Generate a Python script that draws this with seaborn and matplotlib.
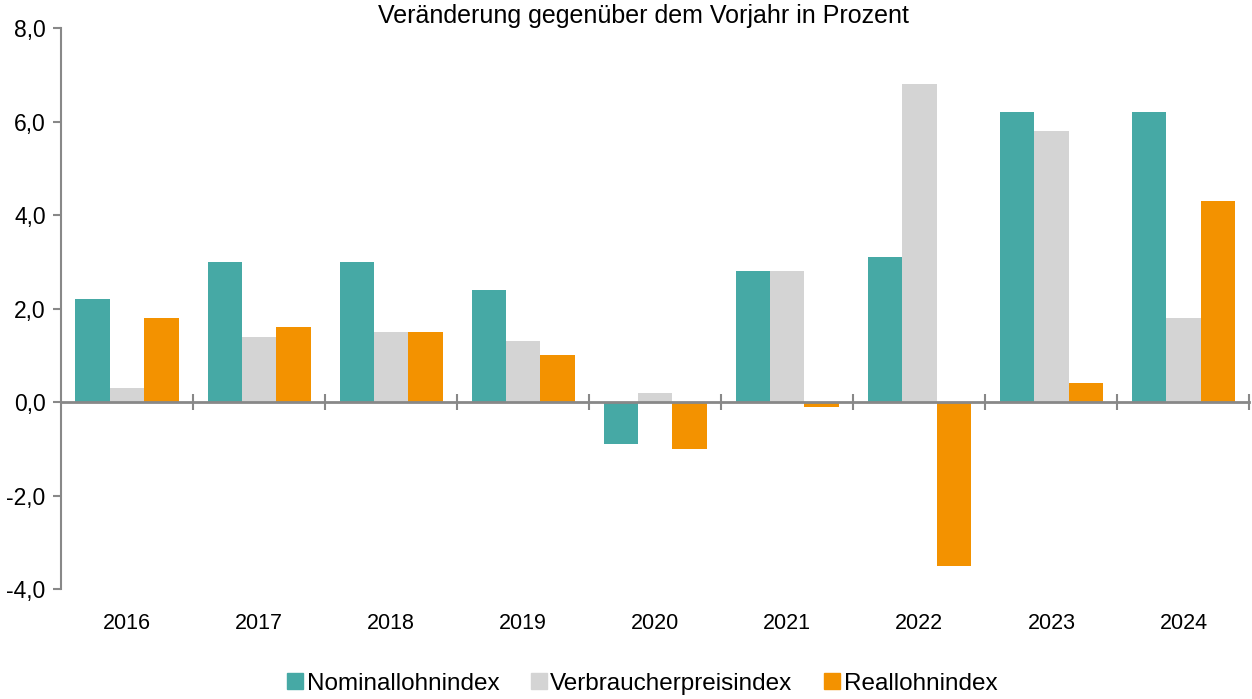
import pandas as pd
import seaborn as sns
from matplotlib import pyplot as plt
from matplotlib.ticker import FixedLocator, FuncFormatter

jahre = ['2016', '2017', '2018', '2019', '2020', '2021', '2022', '2023', '2024']
nominal = [2.2, 3.0, 3.0, 2.4, -0.9, 2.8, 3.1, 6.2, 6.2]
vpi = [0.3, 1.4, 1.5, 1.3, 0.2, 2.8, 6.8, 5.8, 1.8]
real = [1.8, 1.6, 1.5, 1.0, -1.0, -0.1, -3.5, 0.4, 4.3]
reihen = ['Nominallohnindex', 'Verbraucherpreisindex', 'Reallohnindex']
farben = ['#46a9a5', '#d4d4d4', '#f39200']

df = pd.DataFrame({'Jahr': jahre, reihen[0]: nominal, reihen[1]: vpi, reihen[2]: real})
df = df.melt(id_vars='Jahr', var_name='Reihe', value_name='Wert')

sns.set_style('white')
plt.rcParams['font.family'] = ['Liberation Sans', 'DejaVu Sans']
plt.rcParams['text.color'] = 'black'
plt.rcParams['xtick.color'] = 'black'
plt.rcParams['ytick.color'] = 'black'

fig = plt.figure(figsize=(12.52, 6.99), dpi=100)
ax = fig.add_axes([0.0487, 0.157, 0.9493, 0.803])
sns.barplot(data=df, x='Jahr', y='Wert', hue='Reihe', hue_order=reihen,
            palette=farben, width=0.78, saturation=1, linewidth=0, ax=ax, legend=False)

grau = '#888888'
ax.set_xlim(-0.5, 8.5)
ax.set_ylim(-4, 8)
ax.set_yticks([-4, -2, 0, 2, 4, 6, 8])
ax.yaxis.set_major_formatter(FuncFormatter(lambda v, p: f'{v:.1f}'.replace('.', ',')))
ax.tick_params(axis='y', labelsize=16.5, length=6, width=1.5, color=grau, pad=5,
               direction='out', left=True, labelcolor='black')
ax.set_xlabel('')
ax.set_ylabel('')

for s in ['top', 'right']:
    ax.spines[s].set_visible(False)
ax.spines['left'].set_color(grau)
ax.spines['left'].set_linewidth(1.5)
ax.spines['bottom'].set_position(('data', 0))
ax.spines['bottom'].set_color(grau)
ax.spines['bottom'].set_linewidth(2)

# Trennstriche zwischen den Jahren auf der Nulllinie
ax.xaxis.set_minor_locator(FixedLocator([i + 0.5 for i in range(len(jahre))]))
ax.tick_params(axis='x', which='minor', direction='inout', length=12, width=1.5, color=grau, bottom=True)
ax.tick_params(axis='x', which='major', length=0, labelbottom=False)

# Jahreszahlen am unteren Rand
sec = ax.secondary_xaxis('bottom')
sec.set_xticks(range(len(jahre)))
sec.set_xticklabels(jahre)
sec.tick_params(length=0, labelsize=15.5, pad=17, labelcolor='black')
sec.spines['bottom'].set_visible(False)

ax.set_title('Veränderung gegenüber dem Vorjahr in Prozent', fontsize=18, pad=3, color='black', x=0.49)

handles = [plt.Rectangle((0, 0), 1, 1, color=c) for c in farben]
fig.legend(handles, reihen, loc='lower center', bbox_to_anchor=(0.513, -0.025), ncol=3,
           frameon=False, fontsize=17.5, handlelength=0.65, handleheight=0.65,
           handletextpad=0.15, columnspacing=1.3)

fig.savefig('out.png', dpi=100)
